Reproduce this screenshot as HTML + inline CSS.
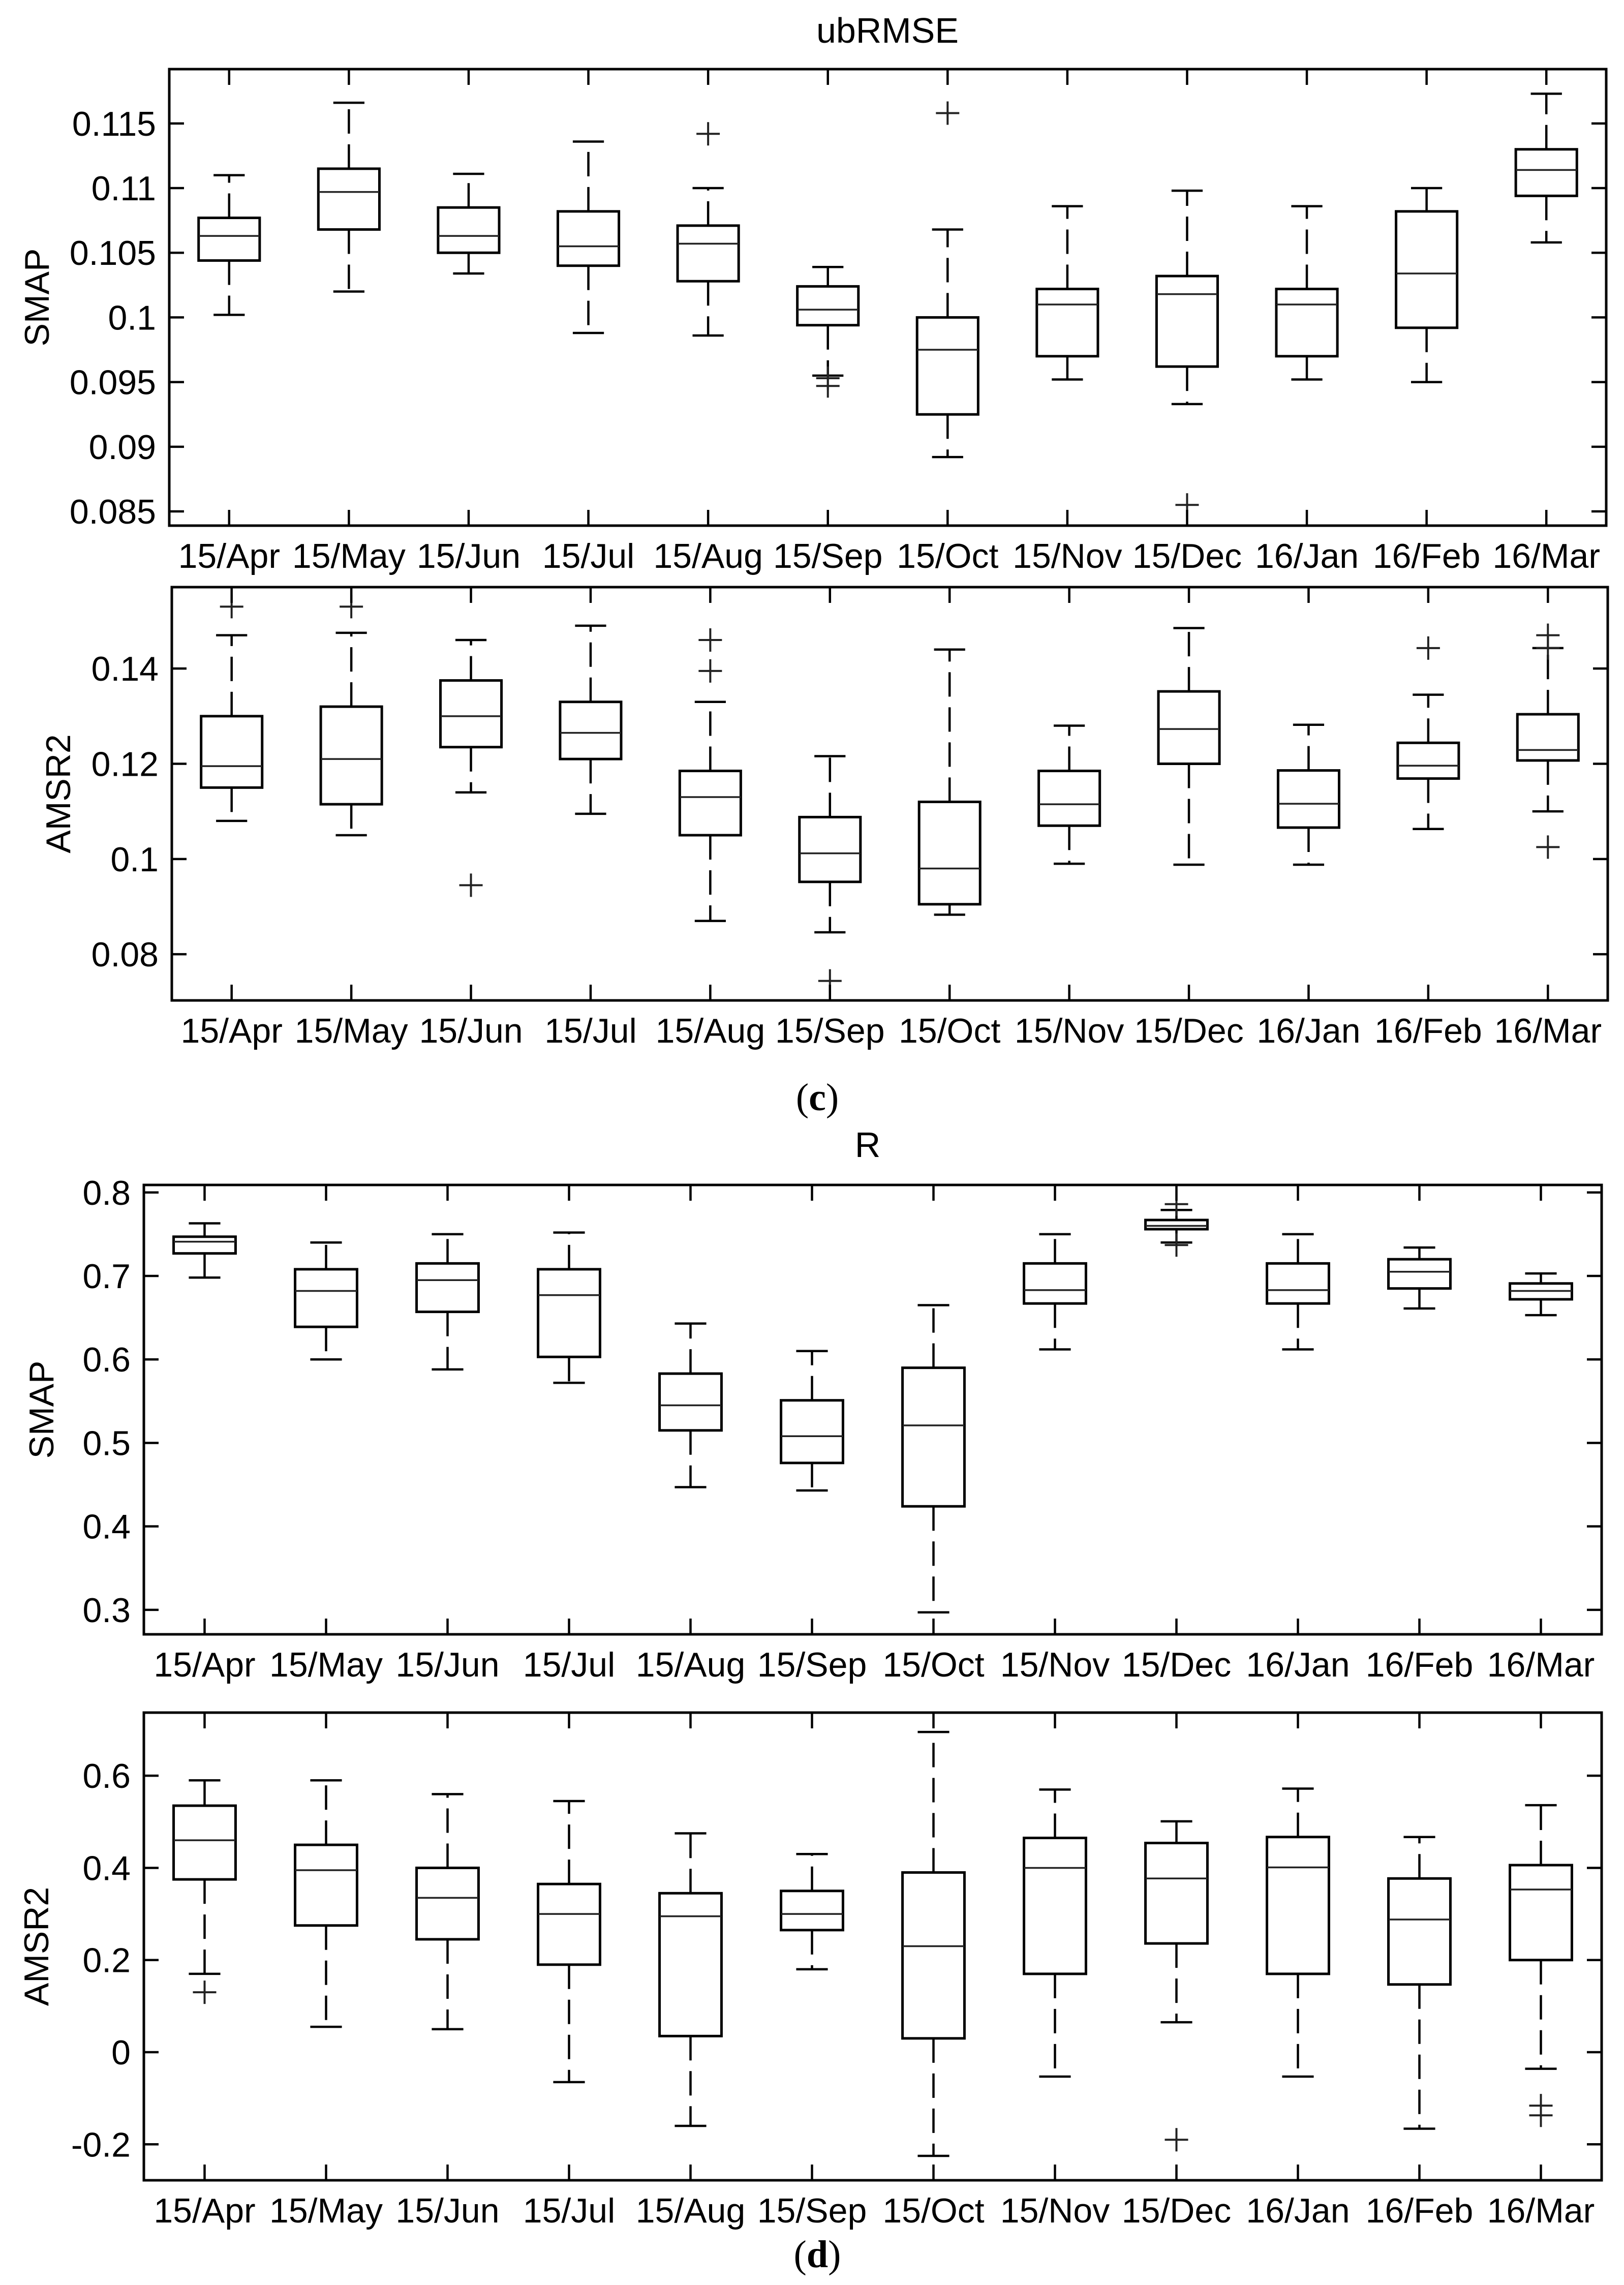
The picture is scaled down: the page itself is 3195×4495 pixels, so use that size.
<!DOCTYPE html>
<html><head><meta charset="utf-8"><style>
html,body{margin:0;padding:0;background:#fff;}
svg{display:block;}
text{font-family:"Liberation Sans",sans-serif;fill:#000;}
</style></head><body>
<svg id="fig" width="3195" height="4495" viewBox="0 0 3195 4495" xmlns="http://www.w3.org/2000/svg">
<rect x="0" y="0" width="3195" height="4495" fill="#fff"/>
<text x="1746" y="84" font-size="70" text-anchor="middle">ubRMSE</text>
<text x="1608" y="2184" font-size="76" text-anchor="middle" style="font-family:'Liberation Serif',serif">(<tspan font-weight="bold">c</tspan>)</text>
<text x="1707" y="2276" font-size="70" text-anchor="middle">R</text>
<text x="1608" y="4460" font-size="76" text-anchor="middle" style="font-family:'Liberation Serif',serif">(<tspan font-weight="bold">d</tspan>)</text>
</svg>
<script>
const months = ["15/Apr","15/May","15/Jun","15/Jul","15/Aug","15/Sep","15/Oct","15/Nov","15/Dec","16/Jan","16/Feb","16/Mar"];

// Panel 1: ubRMSE SMAP
const ubSmapLo  = [0.1002,0.1020,0.1034,0.0988,0.0986,0.0955,0.0892,0.0952,0.0933,0.0952,0.0950,0.1058];
const ubSmapQ1  = [0.1044,0.1068,0.1050,0.1040,0.1028,0.0994,0.0925,0.0970,0.0962,0.0970,0.0992,0.1094];
const ubSmapMed = [0.1063,0.1097,0.1063,0.1055,0.1057,0.1006,0.0975,0.1010,0.1018,0.1010,0.1034,0.1114];
const ubSmapQ3  = [0.1077,0.1115,0.1085,0.1082,0.1071,0.1024,0.1000,0.1022,0.1032,0.1022,0.1082,0.1130];
const ubSmapHi  = [0.1110,0.1166,0.1111,0.1136,0.1100,0.1039,0.1068,0.1086,0.1098,0.1086,0.1100,0.1173];
const ubSmapOut = [[],[],[],[],[0.1142],[0.0953,0.0947],[0.1158],[],[0.0855],[],[],[]];
const ubSmapTicks = [0.115,0.11,0.105,0.1,0.095,0.09,0.085];
const ubSmapTickLabels = ["0.115","0.11","0.105","0.1","0.095","0.09","0.085"];

// Panel 2: ubRMSE AMSR2
const ubAmLo  = [0.108,0.105,0.114,0.1095,0.087,0.0846,0.0883,0.099,0.0988,0.0988,0.1063,0.110];
const ubAmQ1  = [0.115,0.1115,0.1235,0.121,0.105,0.0952,0.0905,0.107,0.120,0.1066,0.1169,0.1207];
const ubAmMed = [0.1195,0.121,0.130,0.1265,0.113,0.1012,0.098,0.1115,0.1273,0.1116,0.1196,0.1229];
const ubAmQ3  = [0.130,0.132,0.1375,0.133,0.1185,0.1088,0.112,0.1185,0.1352,0.1186,0.1244,0.1304];
const ubAmHi  = [0.147,0.1475,0.146,0.149,0.133,0.1216,0.144,0.128,0.1485,0.1282,0.1345,0.1443];
const ubAmOut = [[0.153],[0.153],[0.0945],[],[0.146,0.1395],[0.0744],[],[],[],[],[0.1443],[0.147,0.1443,0.1025]];
const ubAmTicks = [0.14,0.12,0.1,0.08];
const ubAmTickLabels = ["0.14","0.12","0.1","0.08"];

// Panel 3: R SMAP
const rSmapLo  = [0.698,0.600,0.588,0.572,0.447,0.443,0.297,0.612,0.740,0.612,0.661,0.653];
const rSmapQ1  = [0.727,0.639,0.657,0.603,0.515,0.476,0.424,0.667,0.756,0.667,0.685,0.672];
const rSmapMed = [0.741,0.682,0.695,0.677,0.545,0.508,0.521,0.683,0.760,0.683,0.705,0.682];
const rSmapQ3  = [0.747,0.708,0.715,0.708,0.583,0.551,0.590,0.715,0.767,0.715,0.720,0.691];
const rSmapHi  = [0.763,0.740,0.750,0.752,0.643,0.610,0.665,0.750,0.779,0.750,0.734,0.703];
const rSmapOut = [[],[],[],[],[],[],[],[],[0.786,0.737],[],[],[]];
const rSmapTicks = [0.8,0.7,0.6,0.5,0.4,0.3];
const rSmapTickLabels = ["0.8","0.7","0.6","0.5","0.4","0.3"];

// Panel 4: R AMSR2
const rAmLo  = [0.17,0.055,0.05,-0.065,-0.16,0.18,-0.225,-0.053,0.065,-0.053,-0.166,-0.036];
const rAmQ1  = [0.375,0.275,0.245,0.19,0.035,0.265,0.03,0.17,0.236,0.170,0.147,0.200];
const rAmMed = [0.46,0.395,0.335,0.30,0.295,0.30,0.23,0.40,0.377,0.401,0.288,0.353];
const rAmQ3  = [0.535,0.45,0.40,0.365,0.345,0.35,0.39,0.465,0.454,0.467,0.377,0.406];
const rAmHi  = [0.59,0.59,0.56,0.545,0.475,0.43,0.695,0.57,0.501,0.572,0.467,0.536];
const rAmOut = [[0.13],[],[],[],[],[],[],[],[-0.19],[],[],[-0.116,-0.137]];
const rAmTicks = [0.6,0.4,0.2,0,-0.2];
const rAmTickLabels = ["0.6","0.4","0.2","0","-0.2"];

const NS = "http://www.w3.org/2000/svg";
const svg = document.getElementById("fig");
function mk(tag, attrs, parent){
  const e = document.createElementNS(NS, tag);
  for (const k in attrs) e.setAttribute(k, attrs[k]);
  (parent||svg).appendChild(e);
  return e;
}

function panel(cfg){
  const g = mk("g", {});
  
  
  const L=cfg.left, R=cfg.right, T=cfg.top, B=cfg.bottom;
  const n = months.length;
  const sx = i => L + (i + 0.5) * (R - L) / n;
  const sy = v => B - (v - cfg.ymin) / (cfg.ymax - cfg.ymin) * (B - T);
  const step = (R - L) / n;
  const bw = step * 0.51, cw = step * 0.26;
  for (let i = 0; i < n; i++){
    const bg = mk("g", {}, g);
    
    
    const x = sx(i);
    const yq1 = sy(cfg.q1[i]), yq3 = sy(cfg.q3[i]);
    const yhi = sy(cfg.hi[i]), ylo = sy(cfg.lo[i]), ym = sy(cfg.med[i]);
    const wu = mk("line", {x1:x, x2:x, y1:yq3, y2:yhi, stroke:"#000", "stroke-width":4.5, "stroke-dasharray":"48 21"}, bg);
    
    
    const wl = mk("line", {x1:x, x2:x, y1:yq1, y2:ylo, stroke:"#000", "stroke-width":4.5, "stroke-dasharray":"48 21"}, bg);
    
    
    const cu = mk("line", {x1:x-cw/2, x2:x+cw/2, y1:yhi, y2:yhi, stroke:"#000", "stroke-width":4.5}, bg);
    
    
    const cl = mk("line", {x1:x-cw/2, x2:x+cw/2, y1:ylo, y2:ylo, stroke:"#000", "stroke-width":4.5}, bg);
    
    
    const rc = mk("rect", {x:x-bw/2, y:yq3, width:bw, height:Math.max(yq1-yq3,0.5), fill:"#fff", stroke:"#000", "stroke-width":5}, bg);
    
    
    const md = mk("line", {x1:x-bw/2, x2:x+bw/2, y1:ym, y2:ym, stroke:"#222", "stroke-width":3.5}, bg);
    
    
    for (const o of cfg.out[i]){
      const yo = sy(o);
      const p = mk("path", {d:`M${x-23},${yo}H${x+23}M${x},${yo-23}V${yo+23}`, stroke:"#222", "stroke-width":4, fill:"none"}, bg);
      
      
    }
  }
  const fr = mk("rect", {x:L, y:T, width:R-L, height:B-T, fill:"none", stroke:"#000", "stroke-width":5}, g);
  
  
  for (let i = 0; i < n; i++){
    const x = sx(i);
    const t1 = mk("line", {x1:x, x2:x, y1:B, y2:B-31, stroke:"#000", "stroke-width":4.5}, g);
    
    
    const t2 = mk("line", {x1:x, x2:x, y1:T, y2:T+31, stroke:"#000", "stroke-width":4.5}, g);
    
    
    const tl = mk("text", {x:x, y:B+83, "font-size":cfg.xfs, "text-anchor":"middle"}, g);
    
    
    tl.textContent = months[i];
  }
  cfg.ticks.forEach((v, k) => {
    const y = sy(v);
    const a = mk("line", {x1:L, x2:L+29, y1:y, y2:y, stroke:"#000", "stroke-width":4.5}, g);
    
    
    const b = mk("line", {x1:R, x2:R-29, y1:y, y2:y, stroke:"#000", "stroke-width":4.5}, g);
    
    
    const tl = mk("text", {x:L-26, y:y+24, "font-size":68, "text-anchor":"end"}, g);
    
    
    tl.textContent = cfg.tickLabels[k];
  });
  const yl = mk("text", {x:0, y:0, "font-size":68, "text-anchor":"middle", transform:`translate(${cfg.ylx},${(T+B)/2}) rotate(-90)`}, g);
  
  
  yl.textContent = cfg.ylabel;
}

panel({name:"ubrmse-smap-panel", left:333, right:3160, top:136, bottom:1034, ymin:0.0839, ymax:0.1192,
  lo:ubSmapLo, q1:ubSmapQ1, med:ubSmapMed, q3:ubSmapQ3, hi:ubSmapHi, out:ubSmapOut,
  ticks:ubSmapTicks, tickLabels:ubSmapTickLabels, ylabel:"SMAP", ylx:96, xfs:68});
panel({name:"ubrmse-amsr2-panel", left:338, right:3163, top:1155, bottom:1968, ymin:0.0703, ymax:0.1571,
  lo:ubAmLo, q1:ubAmQ1, med:ubAmMed, q3:ubAmQ3, hi:ubAmHi, out:ubAmOut,
  ticks:ubAmTicks, tickLabels:ubAmTickLabels, ylabel:"AMSR2", ylx:138, xfs:68});
panel({name:"r-smap-panel", left:283, right:3151, top:2331, bottom:3215, ymin:0.2707, ymax:0.809,
  lo:rSmapLo, q1:rSmapQ1, med:rSmapMed, q3:rSmapQ3, hi:rSmapHi, out:rSmapOut,
  ticks:rSmapTicks, tickLabels:rSmapTickLabels, ylabel:"SMAP", ylx:105, xfs:68});
panel({name:"r-amsr2-panel", left:283, right:3151, top:3369, bottom:4289, ymin:-0.278, ymax:0.737,
  lo:rAmLo, q1:rAmQ1, med:rAmMed, q3:rAmQ3, hi:rAmHi, out:rAmOut,
  ticks:rAmTicks, tickLabels:rAmTickLabels, ylabel:"AMSR2", ylx:95, xfs:68});
</script>
</body></html>
